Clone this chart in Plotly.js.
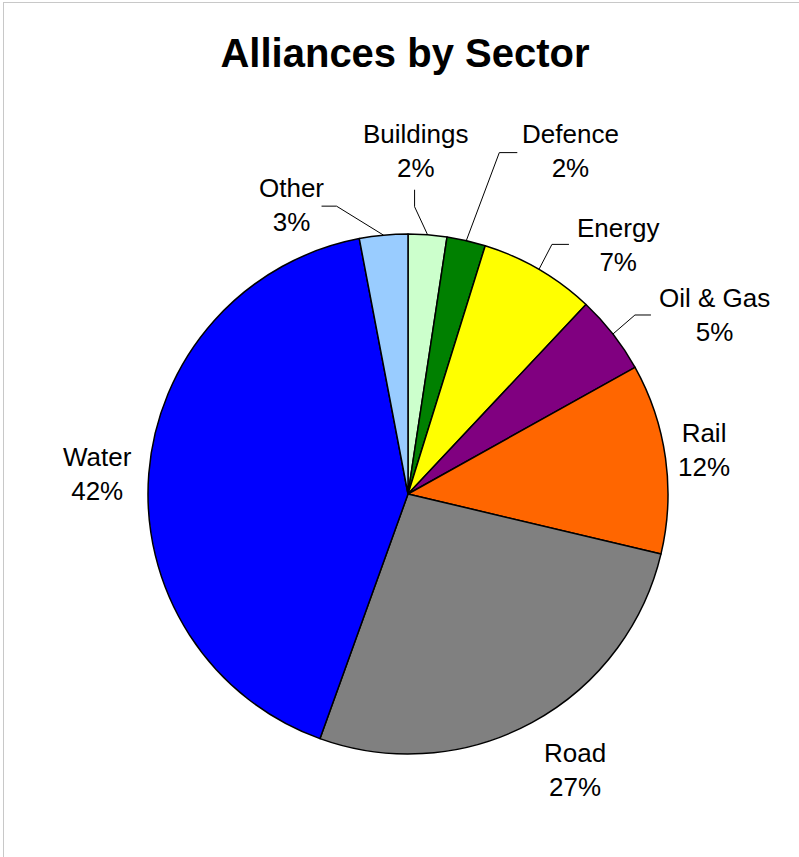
<!DOCTYPE html>
<html>
<head>
<meta charset="utf-8">
<script src="https://cdn.plot.ly/plotly-3.0.1.min.js"></script>
<style>
html,body{margin:0;padding:0;background:#fff;}
#chart{width:799px;height:857px;position:relative;}
#frame{position:absolute;left:3px;top:2px;width:900px;height:900px;border-left:1px solid #c8c8c8;border-top:1px solid #c8c8c8;pointer-events:none;}
</style>
</head>
<body>
<div id="chart"></div>
<div id="frame"></div>
<script>
// ---- data ----
const sectors = ["Buildings", "Defence", "Energy", "Oil & Gas", "Rail", "Road", "Water", "Other"];
const shares  = [2.4, 2.4, 7.2, 4.9, 11.8, 26.8, 41.5, 3.0];
const colors  = ["#CCFFCC", "#008000", "#FFFF00", "#800080", "#FF6600", "#808080", "#0000FF", "#99CCFF"];

// ---- layout constants (pixels) ----
const W = 799, H = 857;
const CX = 408, CY = 494, R = 260;
// text-center offsets from slice edge midpoint
const labelOffset = [[-12,-84],[104,-90],[79,-24],[102,-19],[38,-8],[43,47],[-51,0],[-92,-30]];
// leader lines: [elbow, end] as offsets from edge point; null = no line
const leaders = [
  [[-13,-28],[-13,-45]],
  [[33,-88],[51,-88]],
  [[13,-25],[30,-25]],
  [[22,-19],[38,-19]],
  null, null, null,
  [[-47,-29],[-62,-29]]
];

const px = x => x / W;
const py = y => 1 - y / H;

const total = shares.reduce((a,b)=>a+b,0);
let cum = 0;
const annotations = [], shapes = [];
shares.forEach((v,i)=>{
  const mid = (cum + v/2) / total * 2 * Math.PI;
  cum += v;
  const ex = CX + R*Math.sin(mid), ey = CY - R*Math.cos(mid);
  annotations.push({
    xref:'paper', yref:'paper', x:px(ex), y:py(ey),
    xanchor:'center', yanchor:'middle',
    xshift: labelOffset[i][0], yshift: -labelOffset[i][1],
    text: sectors[i] + '<br>' + Math.round(v/total*100) + '%',
    showarrow:false,
    font:{family:'Liberation Sans, Arial, sans-serif', size:26, color:'#000'}
  });
  const L = leaders[i];
  if (L) {
    const p1 = [ex+L[0][0], ey+L[0][1]], p2 = [ex+L[1][0], ey+L[1][1]];
    shapes.push({
      type:'path', xref:'paper', yref:'paper',
      path:`M ${px(ex)},${py(ey)} L ${px(p1[0])},${py(p1[1])} L ${px(p2[0])},${py(p2[1])}`,
      line:{color:'#000', width:1}
    });
  }
});

const trace = {
  type:'pie',
  labels: sectors,
  values: shares,
  sort:false,
  direction:'clockwise',
  rotation:0,
  marker:{colors:colors, line:{color:'#000', width:1.5}},
  textinfo:'none',
  hoverinfo:'label+percent',
  domain:{x:[px(CX-R), px(CX+R)], y:[py(CY+R), py(CY-R)]},
  showlegend:false
};

const layout = {
  width:W, height:H,
  margin:{l:0,r:0,t:0,b:0},
  paper_bgcolor:'#fff',
  title:{
    text:'<b>Alliances by Sector</b>',
    x:405/W, xanchor:'center',
    y:py(53), yanchor:'middle',
    font:{family:'Liberation Sans, Arial, sans-serif', size:40, color:'#000'}
  },
  annotations: annotations,
  shapes: shapes,
  showlegend:false
};

Plotly.newPlot('chart', [trace], layout, {displayModeBar:false, staticPlot:true});
</script>
</body>
</html>
